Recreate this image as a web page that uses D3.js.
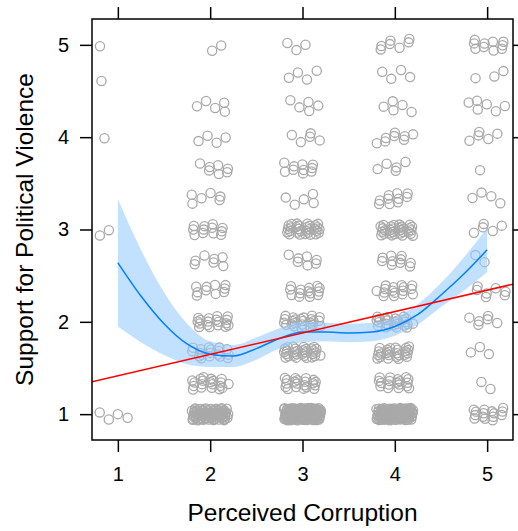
<!DOCTYPE html>
<html>
<head>
<meta charset="utf-8">
<script src="https://cdn.jsdelivr.net/npm/d3@7"></script>
<style>
  html, body { margin: 0; padding: 0; background: #fff; }
  svg { display: block; font-family: "Liberation Sans", Arial, sans-serif; }
</style>
</head>
<body>
<svg id="chart" width="518" height="531"></svg>
<script>
// Perceived corruption categories (x) and response levels of the support scale (y)
const corruption = [1, 2, 3, 4, 5];
const supportLevels = [1, 1.333, 1.667, 2, 2.333, 2.667, 3, 3.333, 3.667, 4, 4.333, 4.667, 5];

// Respondent counts at each support level, one array per corruption category
const countsC1 = [4, 0, 0, 0, 0, 0, 2, 0, 0, 1, 0, 1, 1];
const countsC2 = [80, 20, 18, 18, 10, 7, 12, 6, 7, 4, 5, 0, 2];
const countsC3 = [150, 20, 30, 25, 14, 7, 30, 5, 10, 5, 5, 4, 3];
const countsC4 = [120, 18, 25, 25, 16, 10, 30, 10, 5, 8, 5, 4, 7];
const countsC5 = [15, 2, 3, 6, 7, 2, 5, 4, 1, 5, 6, 3, 10];
const countsByCategory = [countsC1, countsC2, countsC3, countsC4, countsC5];

// Local (loess) fit with its confidence band
const smoothX = [1, 1.25, 1.5, 1.75, 2, 2.25, 2.5, 2.75, 3, 3.25, 3.5, 3.75, 4, 4.25, 4.5, 4.75, 5];
const smoothFit = [2.64, 2.28, 1.98, 1.76, 1.65, 1.63, 1.71, 1.82, 1.89, 1.89, 1.88, 1.89, 1.95, 2.08, 2.29, 2.52, 2.78];
const smoothHalfWidth = [0.69, 0.5, 0.34, 0.22, 0.14, 0.12, 0.12, 0.11, 0.11, 0.1, 0.1, 0.1, 0.1, 0.11, 0.13, 0.18, 0.24];

// Linear fit: intercept and slope
const linIntercept = 1.183;
const linSlope = 0.232;

const xTicks = [1, 2, 3, 4, 5];
const yTicks = [1, 2, 3, 4, 5];

const svg = d3.select("#chart");
const panelLeft = 92, panelRight = 513, panelTop = 19, panelBottom = 440;

const x = d3.scaleLinear().domain([0.72, 5.28]).range([panelLeft, panelRight]);
const y = d3.scaleLinear().domain([0.72, 5.28]).range([panelBottom, panelTop]);

// Jittered observations: fixed low-discrepancy offsets within each cell
const points = [];
countsByCategory.forEach((counts, ci) => {
  counts.forEach((n, li) => {
    const s1 = (ci * 13 + li * 7) * 0.1371;
    const s2 = (ci * 5 + li * 11) * 0.2113;
    for (let i = 0; i < n; i++) {
      const u = (s1 + 0.5 + i * 0.7548776662466927) % 1;
      const v = (s2 + 0.5 + i * 0.5698402909980532) % 1;
      points.push({
        cx: corruption[ci] + (u * 2 - 1) * 0.2,
        cy: supportLevels[li] + (v * 2 - 1) * 0.067
      });
    }
  });
});

svg.append("defs").append("clipPath").attr("id", "panel")
  .append("rect").attr("x", panelLeft).attr("y", panelTop)
  .attr("width", panelRight - panelLeft).attr("height", panelBottom - panelTop);

const panel = svg.append("g").attr("clip-path", "url(#panel)");

panel.append("g").selectAll("circle").data(points).join("circle")
  .attr("cx", d => x(d.cx))
  .attr("cy", d => y(d.cy))
  .attr("r", 4.6)
  .attr("fill", "none")
  .attr("stroke", "#a9a9a9")
  .attr("stroke-width", 1.3);

const smooth = smoothX.map((v, i) => ({ x: v, fit: smoothFit[i], hw: smoothHalfWidth[i] }));

panel.append("path").datum(smooth)
  .attr("d", d3.area().curve(d3.curveMonotoneX)
    .x(d => x(d.x)).y0(d => y(d.fit - d.hw)).y1(d => y(d.fit + d.hw)))
  .attr("fill", "#99ccff")
  .attr("fill-opacity", 0.6);

panel.append("path").datum(smooth)
  .attr("d", d3.line().curve(d3.curveMonotoneX).x(d => x(d.x)).y(d => y(d.fit)))
  .attr("fill", "none")
  .attr("stroke", "#0080ff")
  .attr("stroke-width", 1.5);

const xd = x.domain();
panel.append("line")
  .attr("x1", x(xd[0])).attr("y1", y(linIntercept + linSlope * xd[0]))
  .attr("x2", x(xd[1])).attr("y2", y(linIntercept + linSlope * xd[1]))
  .attr("stroke", "#ff0000")
  .attr("stroke-width", 1.5);

// Axes on all four sides; labels only at bottom and left
const tickLen = 12;
const styleAxis = g => {
  g.select(".domain").remove();
  g.selectAll(".tick line").attr("stroke", "#000").attr("stroke-width", 1.5);
  g.selectAll(".tick text").attr("font-size", 20).attr("fill", "#000")
    .attr("font-family", "Liberation Sans, Arial, sans-serif");
};

svg.append("g").attr("transform", `translate(0,${panelBottom})`)
  .call(d3.axisBottom(x).tickValues(xTicks).tickSize(tickLen).tickPadding(15).tickFormat(d3.format("d")))
  .call(styleAxis);
svg.append("g").attr("transform", `translate(0,${panelTop})`)
  .call(d3.axisTop(x).tickValues(xTicks).tickSize(tickLen).tickFormat(""))
  .call(styleAxis);
svg.append("g").attr("transform", `translate(${panelLeft},0)`)
  .call(d3.axisLeft(y).tickValues(yTicks).tickSize(tickLen).tickPadding(11).tickFormat(d3.format("d")))
  .call(styleAxis);
svg.append("g").attr("transform", `translate(${panelRight},0)`)
  .call(d3.axisRight(y).tickValues(yTicks).tickSize(tickLen).tickFormat(""))
  .call(styleAxis);

svg.append("rect")
  .attr("x", panelLeft).attr("y", panelTop)
  .attr("width", panelRight - panelLeft).attr("height", panelBottom - panelTop)
  .attr("fill", "none").attr("stroke", "#000").attr("stroke-width", 1.5);

svg.append("text")
  .attr("x", (panelLeft + panelRight) / 2).attr("y", 521)
  .attr("text-anchor", "middle").attr("font-size", 24.5)
  .text("Perceived Corruption");

svg.append("text")
  .attr("transform", `translate(33,${(panelTop + panelBottom) / 2}) rotate(-90)`)
  .attr("text-anchor", "middle").attr("font-size", 24.5)
  .text("Support for Political Violence");
</script>
</body>
</html>
